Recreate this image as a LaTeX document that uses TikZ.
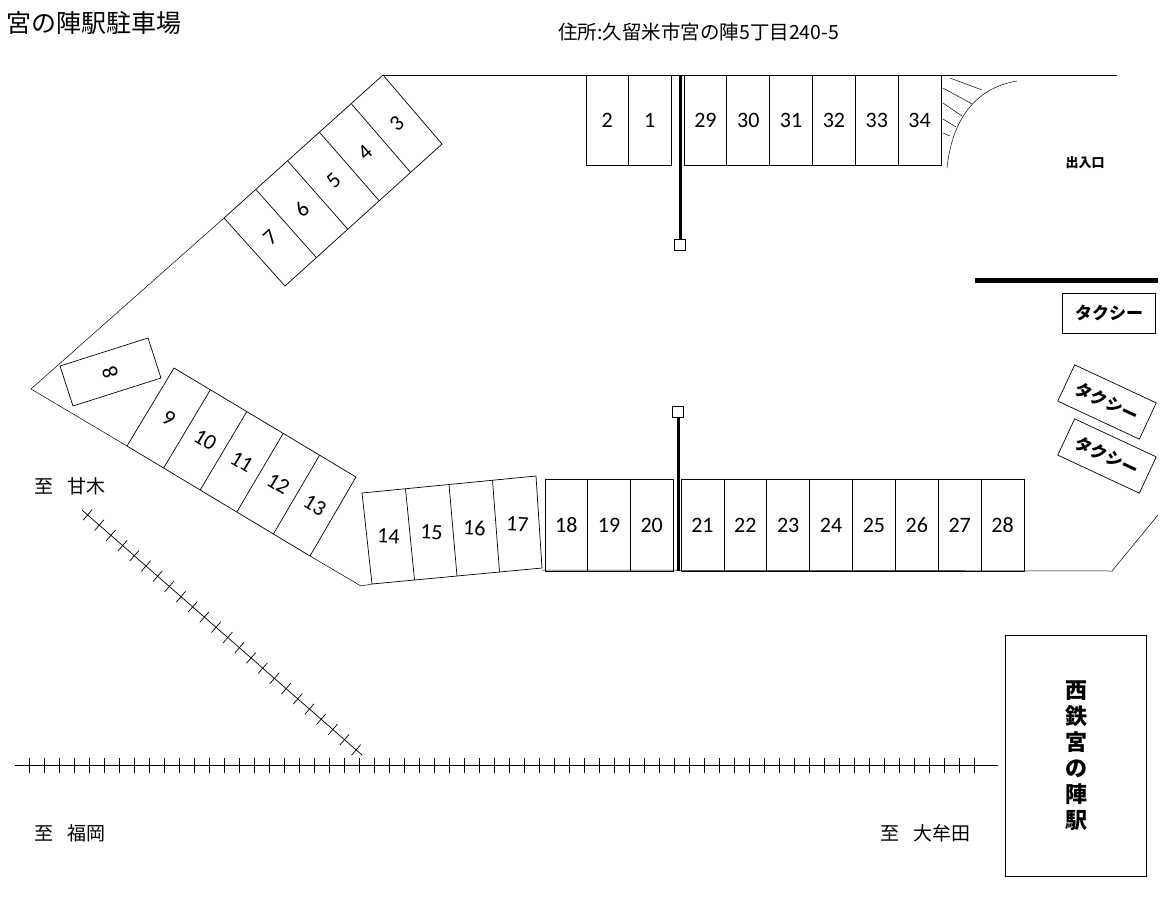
\documentclass[tikz,border=0pt]{standalone}
\usepackage{fontspec}
\setmainfont{Carlito}
\newfontfamily\cjk{Noto Sans CJK JP}
\usetikzlibrary{calc}
\usetikzlibrary{positioning}

% row of parking stalls: top edge #1-#2, bottom edge #3-#4, count, first number, step, rotation
\newcommand\stallrow[8]{%
  \draw (#1) -- (#2) -- (#4) -- (#3) -- cycle;
  \foreach \i in {1,...,#5}{
    \pgfmathtruncatemacro\last{#5}
    \ifnum\i<\last
      \draw ($(#1)!{\i/#5}!(#2)$) -- ($(#3)!{\i/#5}!(#4)$);
    \fi
    \pgfmathtruncatemacro\num{#6+#7*(\i-1)}
    \node[stallno, rotate=#8] (s\num) at ($($(#1)!{(\i-0.5)/#5}!(#2)$)!0.5!($(#3)!{(\i-0.5)/#5}!(#4)$)$) {\num};
  }
}

\begin{document}
\begin{tikzpicture}[x=1pt, y=-1pt, line width=0.7pt,
  stallno/.style={font=\fontsize{22}{24}\selectfont, inner sep=0pt},
  label/.style={font=\cjk\fontsize{19}{21}\selectfont, anchor=west, inner sep=0pt},
  taxi/.style={draw, minimum width=90pt, minimum height=40pt, font=\cjk\bfseries\fontsize{17}{19}\selectfont}]
\useasboundingbox (0,0) rectangle (1160,900);

% titles
\node[label, font=\cjk\fontsize{25}{27}\selectfont] (title) at (6,23) {宮の陣駅駐車場};
\node[label, font=\cjk\fontsize{19.5}{21}\selectfont] (addr) at (558,32) {住所:久留米市宮の陣5丁目240-5};

% lot outline
\draw[line width=0.5pt] (383,75) -- (1117,75);
\draw[line width=0.5pt] (224,218) -- (31,389) -- (127,446);
\draw[line width=0.5pt] (310,556) -- (361,586) -- (372,584);
\draw[line width=0.5pt] (542,570) -- (1112,571) -- (1158,515);

% stalls
\stallrow{383,75}{224,218}{442,144}{285,286}{5}{3}{1}{42}
\stallrow{174,368}{356,477}{127,446}{310,556}{5}{9}{1}{-31}
\stallrow{362,493}{536,476}{372,584}{542,568}{4}{14}{1}{-3}
\stallrow{545,479}{673,479}{545,571}{673,571}{3}{18}{1}{0}
\stallrow{681,479}{1024,479}{681,571}{1024,571}{8}{21}{1}{0}
\stallrow{586,75}{671,75}{586,165}{671,165}{2}{2}{-1}{0}
\stallrow{684,75}{941,75}{684,165}{941,165}{6}{29}{1}{0}
\draw (60,366) -- (148,338) -- (161,378) -- (73,406) -- cycle;
\node[stallno, rotate=108] (s8) at (110,372) {8};

% poles
\node[draw, minimum size=11pt, inner sep=0pt] (poleT) at (680,245) {};
\draw[line width=3pt] (680,75) -- (poleT.north);
\node[draw, minimum size=11pt, inner sep=0pt] (poleB) at (678,412) {};
\draw[line width=3pt] (poleB.south) -- (678,571);

% entrance
\draw[line width=0.5pt] (947,168) .. controls (952,120) and (975,88) .. (1017,81);
\draw[line width=0.5pt] (950,78) -- (982,90) (943,88) -- (972,104) (943,103) -- (962,116) (943,119) -- (956,127) (943,133) -- (950,136);
\node[font=\cjk\bfseries\fontsize{13}{15}\selectfont] (gate) at (1085,163) {出入口};

% taxi stands
\draw[line width=5pt] (975,280) -- (1158,280);
\node[taxi, minimum width=93pt] (taxi1) at (1109,313) {タクシー};
\node[taxi, rotate=-25] (taxi2) at (1107,402) {タクシー};
\node[taxi, rotate=-25] (taxi3) at (1107,456) {タクシー};

% railway
\coordinate (rW) at (15,765);
\coordinate (rE) at (998,765);
\draw (rW) -- (rE);
\foreach \k in {0,...,63}{
  \draw (29+15*\k,758) -- (29+15*\k,773);
}
\coordinate (dN) at (82,510);
\coordinate (dS) at (362,755);
\draw (dN) -- (dS);
\foreach \t in {0.02,0.0617,...,0.99}{
  \draw ($(dN)!\t!(dS)$) ++(4.6,-5.3) -- ++(-9.2,10.6);
}

% directions
\node[label] (toAmagi) at (34,486) {至\hspace{14pt}甘木};
\node[label] (toFukuoka) at (34,833) {至\hspace{14pt}福岡};
\node[label] (toOmuta) at (880,833) {至\hspace{14pt}大牟田};

% station
\node[draw, minimum width=141pt, minimum height=241pt, align=center,
  font=\cjk\bfseries\fontsize{22}{26}\selectfont] (station) at (1076,756) {西\\鉄\\宮\\の\\陣\\駅};
\end{tikzpicture}
\end{document}
